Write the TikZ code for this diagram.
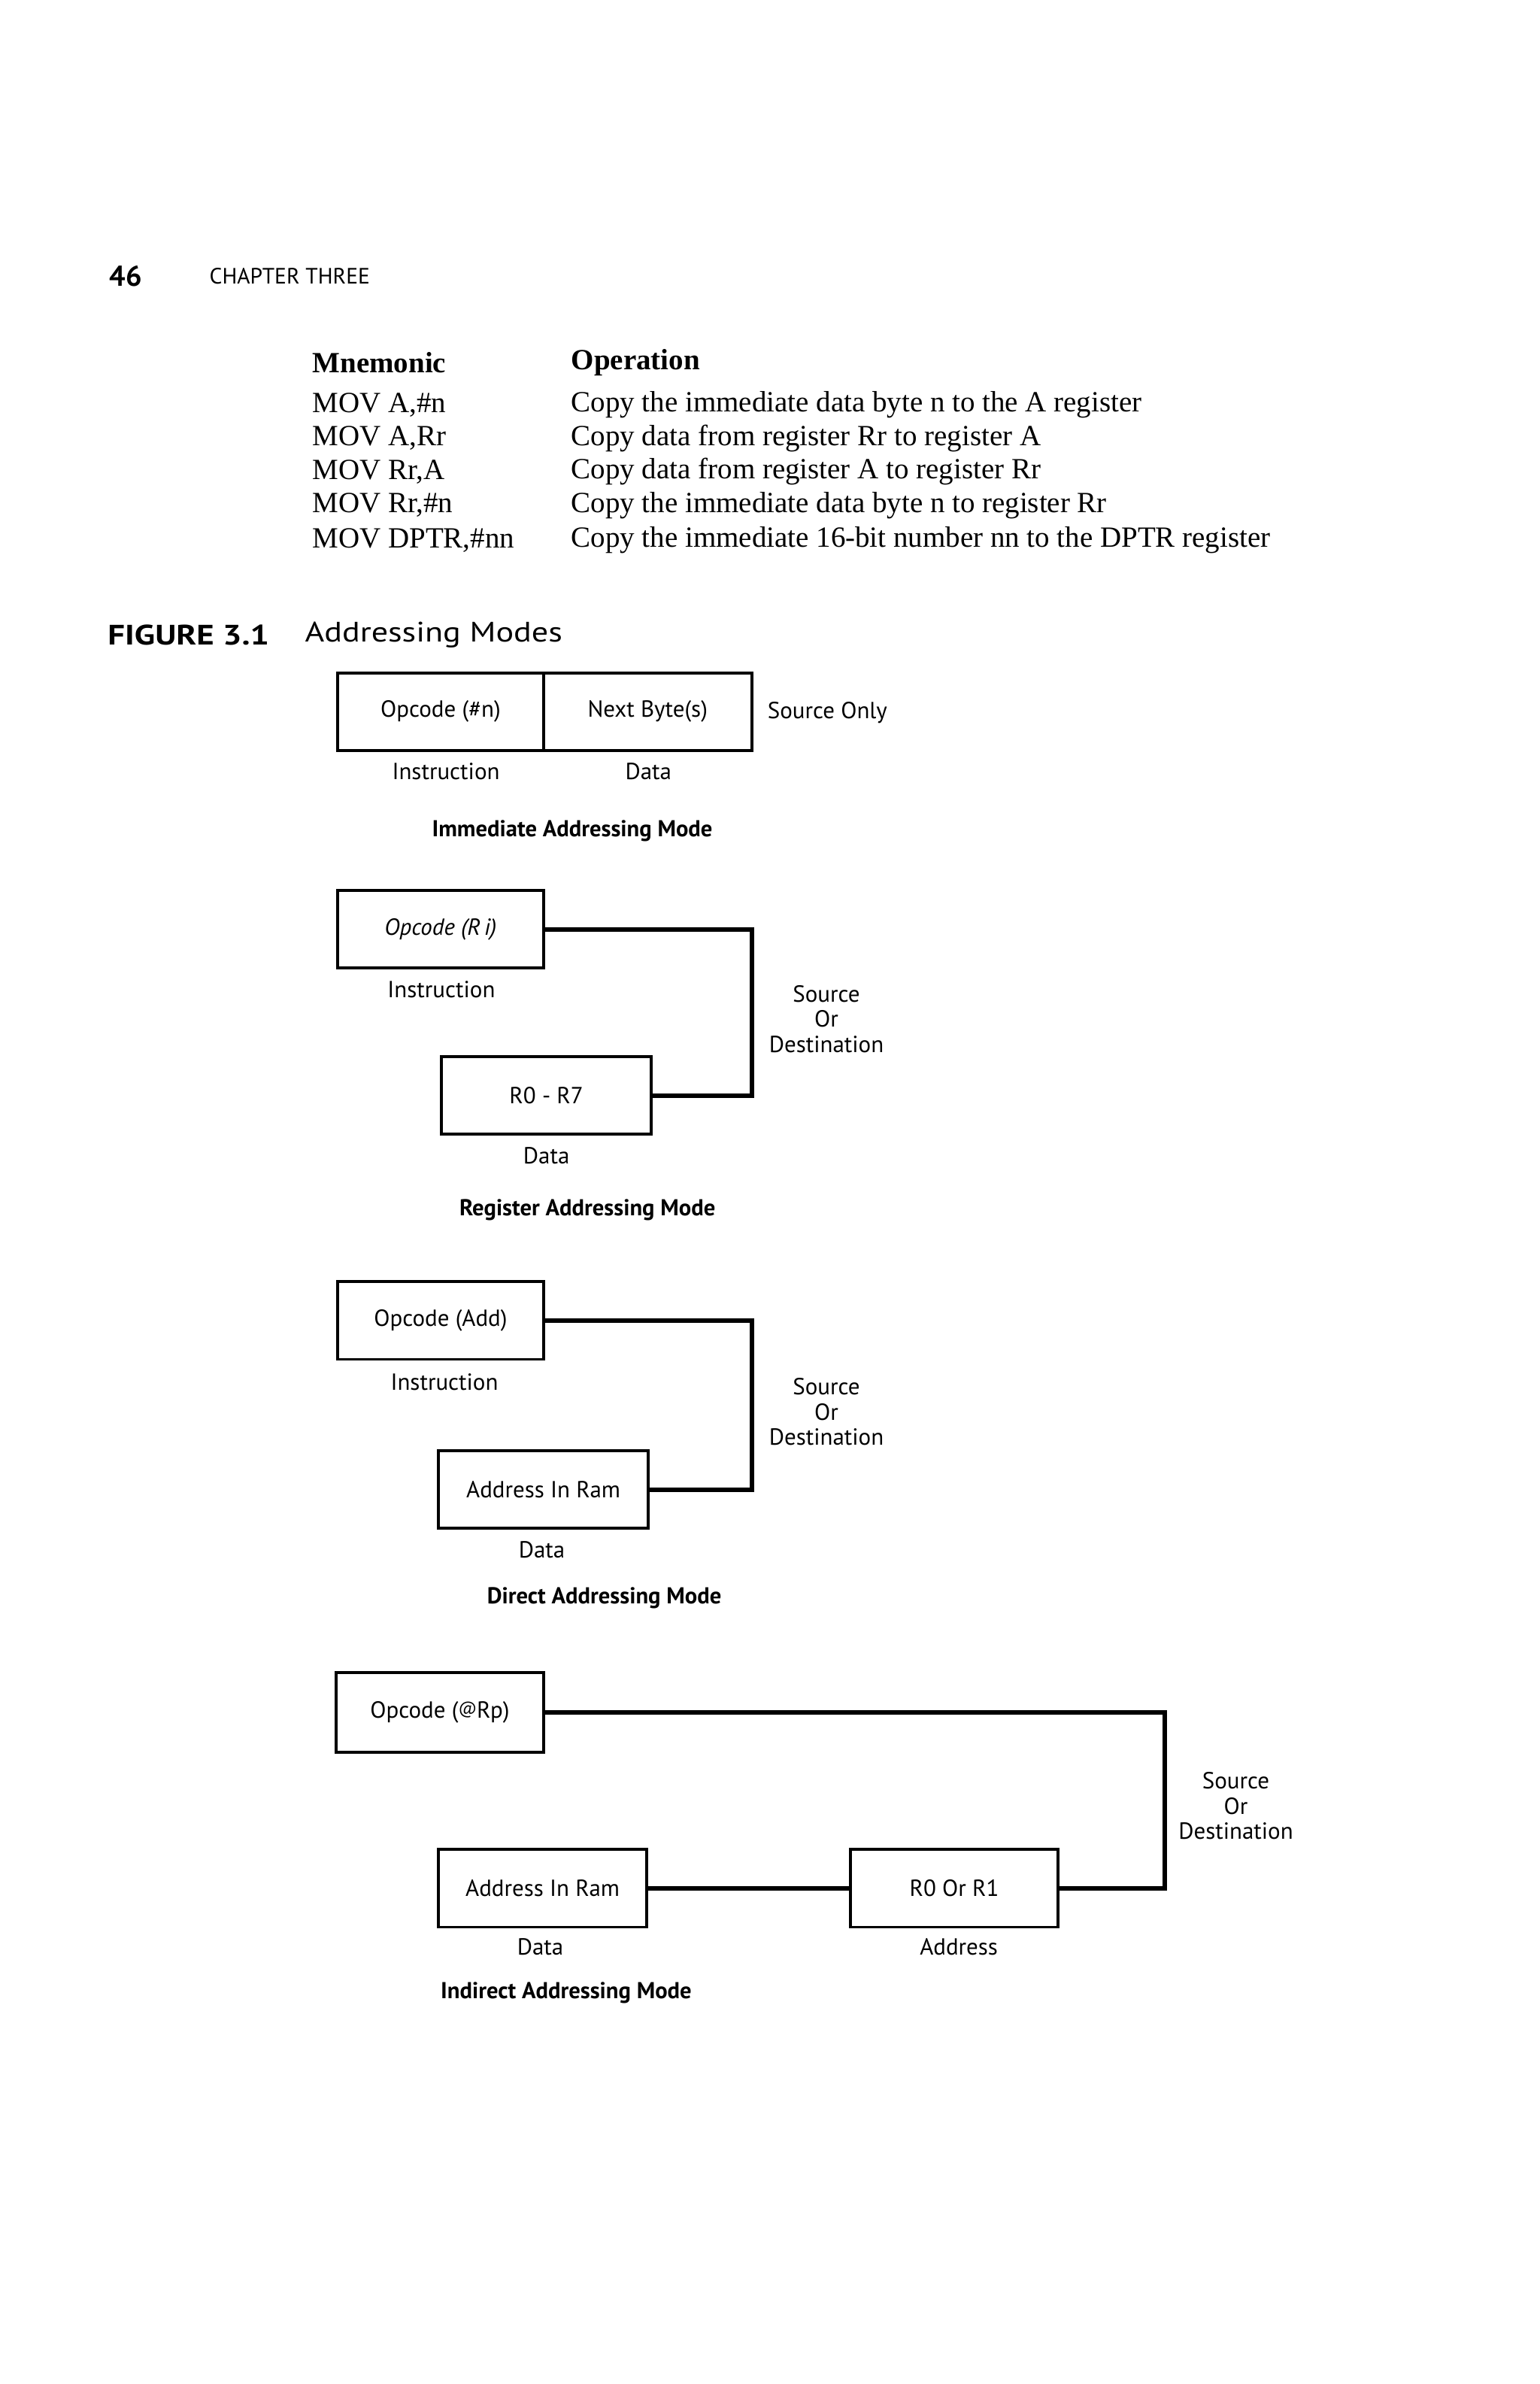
\documentclass[tikz,border=0pt]{standalone}
\usepackage{fontspec}
\setmainfont{Liberation Serif}
\newfontfamily\dsans{PT Sans}
\begin{document}
\begin{tikzpicture}[x=0.01cm,y=-0.01cm,scale=1.012,transform shape,
  box/.style={draw,line width=1.1pt,inner sep=0pt,minimum height=1.02cm,font=\dsans\fontsize{8.7}{10}\selectfont},
  lbl/.style={inner sep=0pt,font=\dsans\fontsize{8.7}{10}\selectfont},
  sod/.style={inner sep=0pt,align=center,font=\dsans\fontsize{8.7}{9.4}\selectfont},
  mtitle/.style={inner sep=0pt,font=\dsans\bfseries\fontsize{8.6}{10}\selectfont},
  tab/.style={inner sep=0pt,anchor=west,font=\fontsize{10.95}{13}\selectfont},
  tabh/.style={inner sep=0pt,anchor=west,font=\bfseries\fontsize{10.95}{13}\selectfont},
  conn/.style={line width=1.7pt}]
\useasboundingbox (0,0) rectangle (2023.7,3132.4);
% header
\node[inner sep=0pt,anchor=west,font=\dsans\bfseries\fontsize{10.7}{12}\selectfont] (pg) at (143.3,363) {46};
\node[inner sep=0pt,anchor=west,font=\dsans\fontsize{8.3}{10}\selectfont] (ch) at (274.7,363) {CHAPTER THREE};
% table
\node[tabh] (hm) at (410,476) {Mnemonic};
\node[tabh] (ho) at (750,476) {Operation};
\node[tab] (m1) at (410,532) {MOV A,\#n};
\node[tab] (o1) at (750,532) {Copy the immediate data byte n to the A register};
\node[tab] (m2) at (410,576) {MOV A,Rr};
\node[tab] (o2) at (750,576) {Copy data from register Rr to register A};
\node[tab] (m3) at (410,620) {MOV Rr,A};
\node[tab] (o3) at (750,620) {Copy data from register A to register Rr};
\node[tab] (m4) at (410,664) {MOV Rr,\#n};
\node[tab] (o4) at (750,664) {Copy the immediate data byte n to register Rr};
\node[tab] (m5) at (410,710) {MOV DPTR,\#nn};
\node[tab] (o5) at (750,710) {Copy the immediate 16-bit number nn to the DPTR register};
% figure title
\node[inner sep=0pt,anchor=west,font=\dsans\bfseries\fontsize{10.5}{12}\selectfont] (fig) at (141,834) {\scalebox{1.2}[1]{FIGURE 3.1}};
\node[inner sep=0pt,anchor=west,font=\dsans\fontsize{10.5}{13}\selectfont] (figt) at (400,834) {\scalebox{1.18}[1]{Addressing Modes}};
% immediate
\node[box,minimum width=2.70cm] (imop) at (579,935) {Opcode (\#n)};
\node[box,minimum width=2.74cm] (imnb) at (851,935) {Next Byte(s)};
\node[lbl,anchor=west] (imso) at (1008,936) {Source Only};
\node[lbl] (imin) at (586,1014) {Instruction};
\node[lbl] (imda) at (852,1014) {Data};
\node[mtitle] (imt) at (752,1092) {Immediate Addressing Mode};
% register
\node[box,minimum width=2.70cm] (rgop) at (579,1221) {\itshape Opcode (R\,i)};
\node[box,minimum width=2.76cm] (rgr) at (718,1439) {R0 - R7};
\coordinate (rgc) at (988,1221);
\draw[conn] (rgop.east) -- (rgc) |- (rgr.east);
\node[lbl] (rgin) at (580,1300) {Instruction};
\node[sod] (rgsod) at (1086,1339) {Source\\Or\\Destination};
\node[lbl] (rgda) at (718,1518) {Data};
\node[mtitle] (rgt) at (772,1590) {Register Addressing Mode};
% direct
\node[box,minimum width=2.70cm] (dop) at (579,1735) {Opcode (Add)};
\node[box,minimum width=2.76cm] (dad) at (714,1957) {Address In Ram};
\coordinate (dc) at (988,1735);
\draw[conn] (dop.east) -- (dc) |- (dad.east);
\node[lbl] (din) at (584,1816) {Instruction};
\node[sod] (dsod) at (1086,1855) {Source\\Or\\Destination};
\node[lbl] (dda) at (712,2036) {Data};
\node[mtitle] (dt) at (794,2100) {Direct Addressing Mode};
% indirect
\node[box,minimum width=2.72cm,minimum height=1.04cm] (iop) at (578,2250) {Opcode (\raisebox{0.35ex}{\fontsize{6.5}{7}\selectfont @}Rp)};
\node[box,minimum width=2.74cm] (iad) at (713,2481) {Address In Ram};
\node[box,minimum width=2.72cm] (ir) at (1254,2481) {R0 Or R1};
\coordinate (ic) at (1530,2250);
\draw[conn] (iop.east) -- (ic) |- (ir.east);
\draw[conn] (iad.east) -- (ir.west);
\node[lbl] (ida) at (710,2558) {Data};
\node[lbl] (iadr) at (1260,2558) {Address};
\node[sod] (isod) at (1624,2373) {Source\\Or\\Destination};
\node[mtitle] (it) at (744,2618) {Indirect Addressing Mode};
\end{tikzpicture}
\end{document}
